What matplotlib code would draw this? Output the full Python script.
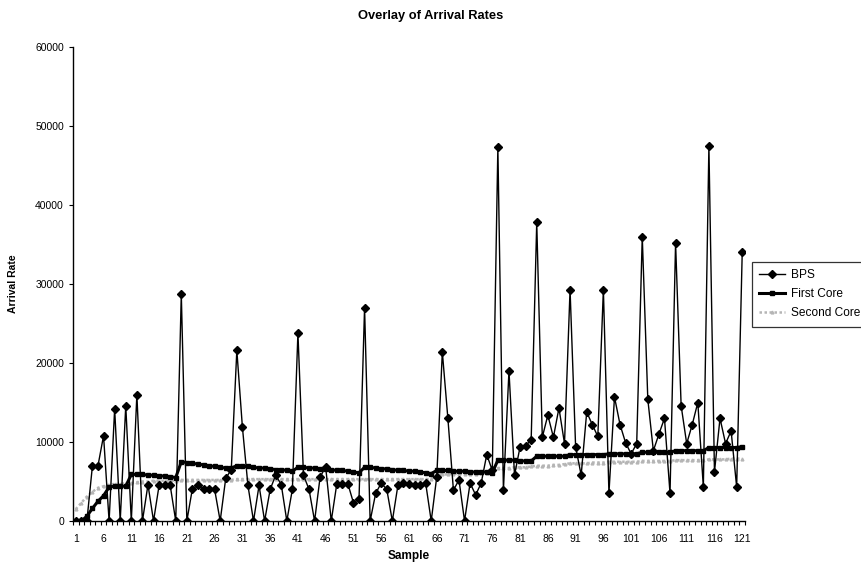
import numpy as np
import matplotlib
matplotlib.use("Agg")
import matplotlib.pyplot as plt

plt.rcParams['font.family'] = ['Liberation Sans', 'DejaVu Sans']

# Sample numbers 1..121
samples = list(range(1, 122))

# BPS arrival rate
bps = [0, 0, 0, 7000, 7000, 10800, 0, 14200, 0, 14600,
       0, 16000, 0, 4600, 0, 4500, 4500, 4500, 0, 28700,
       0, 4100, 4500, 4000, 4000, 4000, 0, 5400, 6500, 21600,
       11900, 4500, 0, 4500, 0, 4000, 5800, 4600, 0, 4000,
       23800, 5800, 4000, 0, 5600, 6800, 0, 4700, 4700, 4700,
       2300, 2800, 27000, 0, 3500, 4800, 4000, 0, 4500, 4800,
       4700, 4500, 4500, 4800, 0, 5600, 21400, 13000, 3900, 5200,
       0, 4800, 3300, 4800, 8400, 6400, 47300, 3900, 19000, 5800,
       9400, 9500, 10300, 37800, 10600, 13400, 10600, 14300, 9800, 29300,
       9400, 5800, 13800, 12200, 10700, 29300, 3500, 15700, 12200, 9900,
       8500, 9800, 36000, 15400, 8900, 11000, 13000, 3500, 35200, 14600,
       9800, 12200, 15000, 4300, 47500, 6200, 13000, 9800, 11400, 4300,
       34000]

# First Core estimate
first_core = [0, 0, 600, 1600, 2500, 3200, 4300, 4400, 4400, 4400,
              5900, 5900, 5900, 5800, 5800, 5700, 5700, 5600, 5500, 7500,
              7400, 7300, 7200, 7100, 7000, 6900, 6800, 6700, 6700, 7000,
              6900, 6900, 6800, 6700, 6700, 6600, 6500, 6500, 6400, 6300,
              6800, 6800, 6700, 6700, 6600, 6600, 6500, 6400, 6400, 6300,
              6200, 6100, 6800, 6800, 6700, 6600, 6600, 6500, 6400, 6400,
              6300, 6300, 6200, 6100, 6000, 6400, 6400, 6400, 6300, 6300,
              6300, 6200, 6200, 6200, 6200, 6100, 7700, 7700, 7700, 7700,
              7600, 7600, 7600, 8200, 8200, 8200, 8200, 8200, 8200, 8400,
              8400, 8400, 8400, 8400, 8400, 8400, 8500, 8500, 8500, 8500,
              8500, 8500, 8700, 8700, 8700, 8700, 8700, 8700, 8900, 8900,
              8900, 8900, 8900, 8900, 9300, 9300, 9300, 9300, 9300, 9300,
              9400]

# Second Core estimate
second_core = [1500, 2300, 3100, 3700, 4200, 4400, 4600, 4700, 4700, 4800,
               4800, 4900, 5000, 5000, 5100, 5100, 5100, 5100, 5100, 5200,
               5200, 5200, 5200, 5200, 5200, 5200, 5200, 5200, 5200, 5300,
               5300, 5300, 5300, 5300, 5300, 5300, 5300, 5300, 5300, 5300,
               5300, 5300, 5300, 5300, 5300, 5300, 5300, 5300, 5300, 5300,
               5300, 5300, 5300, 5300, 5300, 5300, 5300, 5300, 5300, 5300,
               5300, 5300, 5300, 5300, 5300, 5900, 5900, 5900, 6000, 6000,
               6000, 6000, 6000, 6100, 6100, 6100, 6700, 6700, 6700, 6800,
               6800, 6800, 6900, 7000, 7000, 7000, 7100, 7100, 7200, 7300,
               7300, 7300, 7300, 7400, 7400, 7400, 7500, 7500, 7500, 7500,
               7500, 7500, 7600, 7600, 7600, 7600, 7600, 7600, 7700, 7700,
               7700, 7700, 7700, 7700, 7800, 7800, 7800, 7800, 7900, 7900,
               7900]

fig = plt.figure(figsize=(8.61, 5.67), dpi=100)
ax = fig.add_axes([73 / 861, 1 - 521 / 567, (745 - 73) / 861, (521 - 47) / 567])

ax.plot(samples, second_core, color='#b5b5b5', linestyle=(0, (1, 1)), linewidth=1.8,
        marker='^', markersize=2, label='Second Core')
ax.plot(samples, first_core, color='black', linestyle='-', linewidth=2.2,
        marker='s', markersize=3, label='First Core')
ax.plot(samples, bps, color='black', linestyle='-', linewidth=1.0,
        marker='D', markersize=4, label='BPS')

ax.set_xlim(0.5, 121.5)
ax.set_ylim(0, 60000)
ax.set_yticks(range(0, 60001, 10000))
ax.set_xticks(range(1, 122, 5))
ax.set_xticks(np.arange(0.5, 122, 1), minor=True)
ax.tick_params(axis='x', which='major', length=0, labelsize=7.5, pad=9)
ax.tick_params(axis='x', which='minor', length=3, width=0.8, direction='out')
ax.tick_params(axis='y', length=3, width=0.8, labelsize=7.5)

for s in ['top', 'right']:
    ax.spines[s].set_visible(False)
for s in ['left', 'bottom']:
    ax.spines[s].set_linewidth(1.0)

ax.set_xlabel('Sample', fontsize=8.5, fontweight='bold', labelpad=5)
ax.set_ylabel('Arrival Rate', fontsize=7.5, fontweight='bold', labelpad=12)
fig.suptitle('Overlay of Arrival Rates', x=0.5, y=1 - 10 / 567, fontsize=9.3,
             fontweight='bold')

handles, labels = ax.get_legend_handles_labels()
leg = fig.legend(handles[::-1], labels[::-1], loc='upper left',
                 bbox_to_anchor=(752 / 861, 1 - 262 / 567), fontsize=8.6,
                 frameon=True, fancybox=False, edgecolor='black',
                 handlelength=2.2, handletextpad=0.5, labelspacing=0.6,
                 borderpad=0.6, borderaxespad=0)
leg.get_frame().set_linewidth(0.9)

fig.savefig('out.png', dpi=100)
